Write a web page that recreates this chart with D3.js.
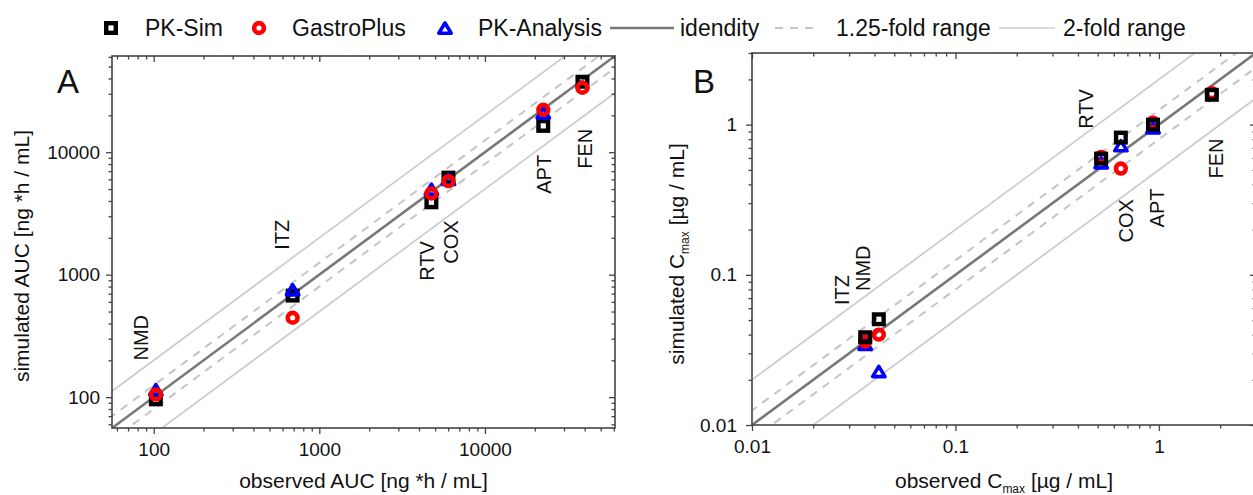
<!DOCTYPE html>
<html>
<head>
<meta charset="utf-8">
<script src="https://cdn.jsdelivr.net/npm/d3@7/dist/d3.min.js"></script>
<style>
body { margin: 0; background: #fff; }
text { font-family: "Liberation Sans", Arial, sans-serif; fill: #111; }
</style>
</head>
<body>
<svg id="fig"></svg>
<script>
var width = 1253,
	height = 495;

// drugs, same order in every array
var drugs = ["NMD", "ITZ", "RTV", "COX", "APT", "FEN"];

// panel A: AUC [ng*h/mL]
var aucObserved = [103, 690, 4750, 6020, 22500, 38800];
var aucPKSim = [96, 675, 3900, 6200, 16400, 37600];
var aucGastroPlus = [105, 445, 4600, 5800, 22200, 33600];
var aucPKAnalysis = [113, 740, 4900, 5900, 20600, null];
// where the drug names sit (observed, simulated)
var aucLabelX = [93, 660, 4950, 6900, 25200, 44600];
var aucLabelY = [199, 1600, 893, 1230, 4580, 7330];

// panel B: Cmax [ug/mL]
var cmaxObserved = [0.042, 0.036, 0.52, 0.65, 0.935, 1.82];
var cmaxPKSim = [0.0506, 0.0384, 0.594, 0.82, 1.0, 1.58];
var cmaxGastroPlus = [0.040, 0.036, 0.61, 0.51, 1.03, 1.62];
var cmaxPKAnalysis = [0.0224, 0.034, 0.55, 0.714, 0.94, null];
var cmaxLabelX = [0.038, 0.030, 0.475, 0.746, 1.06, 2.06];
var cmaxLabelY = [0.078, 0.063, 0.94, 0.164, 0.207, 0.438];

var aucDomain = [56, 61000];
var cmaxDomain = [0.01, 3];
var aucTicks = [100, 1000, 10000];
var cmaxTicks = [0.01, 0.1, 1];

var foldLines = [
	{f: 1, stroke: "#777777", w: 2.6, dash: null},
	{f: 1.25, stroke: "#c4c4c4", w: 2, dash: "8,7"},
	{f: 1 / 1.25, stroke: "#c4c4c4", w: 2, dash: "8,7"},
	{f: 2, stroke: "#cccccc", w: 1.7, dash: null},
	{f: 0.5, stroke: "#cccccc", w: 1.7, dash: null}
];

var svg = d3.select("#fig")
	.attr("width", width)
	.attr("height", height);

function minorTicks(dom) {
	var out = [];
	var e0 = Math.floor(Math.log10(dom[0])), e1 = Math.ceil(Math.log10(dom[1]));
	for (var e = e0; e <= e1; e++) {
		for (var k = 1; k <= 9; k++) {
			var v = k * Math.pow(10, e);
			if (v >= dom[0] * 0.999 && v <= dom[1] * 1.001) out.push(v);
		}
	}
	return out;
}

function squareMark(g, pts) {
	g.selectAll("rect.sq")
		.data(pts)
		.join("rect")
		.attr("class", "sq")
		.attr("x", d => d[0] - 4.8)
		.attr("y", d => d[1] - 4.8)
		.attr("width", 9.6)
		.attr("height", 9.6)
		.attr("fill", "none")
		.attr("stroke", "#000")
		.attr("stroke-width", 4.4);
}
function circleMark(g, pts) {
	g.selectAll("circle.ci")
		.data(pts)
		.join("circle")
		.attr("class", "ci")
		.attr("cx", d => d[0])
		.attr("cy", d => d[1])
		.attr("r", 4.9)
		.attr("fill", "none")
		.attr("stroke", "#ff0000")
		.attr("stroke-width", 4.6);
}
function triangleMark(g, pts) {
	g.selectAll("path.tri")
		.data(pts)
		.join("path")
		.attr("class", "tri")
		.attr("d", d => "M" + d[0] + "," + (d[1] - 6) + "L" + (d[0] + 6.2) + "," + (d[1] + 4.2) +
			"L" + (d[0] - 6.2) + "," + (d[1] + 4.2) + "Z")
		.attr("fill", "none")
		.attr("stroke", "#0000ff")
		.attr("stroke-width", 3.6)
		.attr("stroke-linejoin", "round");
}

function panel(p) {
	var x = d3.scaleLog().domain(p.domain).range(p.xr);
	var y = d3.scaleLog().domain(p.domain).range(p.yr);
	var g = svg.append("g");

	var clipId = "clip" + p.letter;
	g.append("clipPath").attr("id", clipId)
		.append("rect")
		.attr("x", p.xr[0]).attr("y", p.yr[1])
		.attr("width", p.xr[1] - p.xr[0]).attr("height", p.yr[0] - p.yr[1]);

	// identity and fold range lines
	g.append("g")
		.attr("clip-path", "url(#" + clipId + ")")
		.selectAll("line")
		.data(foldLines.slice().reverse())
		.join("line")
			.attr("x1", x(p.domain[0] / 4))
			.attr("x2", x(p.domain[1] * 4))
			.attr("y1", d => y(p.domain[0] / 4 * d.f))
			.attr("y2", d => y(p.domain[1] * 4 * d.f))
			.attr("stroke", d => d.stroke)
			.attr("stroke-width", d => d.w)
			.attr("stroke-dasharray", d => d.dash);

	var minors = minorTicks(p.domain).filter(v => p.ticks.indexOf(v) < 0);
	var fmt = d => String(d);

	// bottom
	g.append("g")
		.attr("transform", "translate(0," + p.yr[0] + ")")
		.call(d3.axisBottom(x).tickValues(p.ticks).tickFormat(fmt).tickSize(6).tickPadding(9))
		.call(a => a.select(".domain").remove());
	g.append("g")
		.attr("transform", "translate(0," + p.yr[0] + ")")
		.call(d3.axisBottom(x).tickValues(minors).tickFormat("").tickSize(3.5))
		.call(a => a.select(".domain").remove());
	// left
	g.append("g")
		.attr("transform", "translate(" + p.xr[0] + ",0)")
		.call(d3.axisLeft(y).tickValues(p.ticks).tickFormat(fmt).tickSize(6).tickPadding(p.ypad))
		.call(a => a.select(".domain").remove());
	g.append("g")
		.attr("transform", "translate(" + p.xr[0] + ",0)")
		.call(d3.axisLeft(y).tickValues(minors).tickFormat("").tickSize(3.5))
		.call(a => a.select(".domain").remove());
	// top and right, ticks pointing in
	g.append("g")
		.attr("transform", "translate(0," + p.yr[1] + ")")
		.call(d3.axisBottom(x).tickValues(p.ticks).tickFormat("").tickSize(6))
		.call(a => a.select(".domain").remove());
	g.append("g")
		.attr("transform", "translate(0," + p.yr[1] + ")")
		.call(d3.axisBottom(x).tickValues(minors).tickFormat("").tickSize(3.5))
		.call(a => a.select(".domain").remove());
	g.append("g")
		.attr("transform", "translate(" + p.xr[1] + ",0)")
		.call(d3.axisLeft(y).tickValues(p.ticks).tickFormat("").tickSize(6))
		.call(a => a.select(".domain").remove());
	g.append("g")
		.attr("transform", "translate(" + p.xr[1] + ",0)")
		.call(d3.axisLeft(y).tickValues(minors).tickFormat("").tickSize(3.5))
		.call(a => a.select(".domain").remove());

	g.selectAll(".tick line").attr("stroke", "#444").attr("stroke-width", 1.3);
	g.selectAll(".tick text").attr("font-size", 19).attr("fill", "#111")
		.attr("font-family", "Liberation Sans, Arial, sans-serif");

	// frame
	g.append("rect")
		.attr("x", p.xr[0]).attr("y", p.yr[1])
		.attr("width", p.xr[1] - p.xr[0]).attr("height", p.yr[0] - p.yr[1])
		.attr("fill", "none")
		.attr("stroke", "#444")
		.attr("stroke-width", 1.6);

	// drug names
	g.append("g")
		.selectAll("text")
		.data(drugs)
		.join("text")
			.attr("transform", (d, i) => "translate(" + x(p.labelX[i]) + "," + y(p.labelY[i]) + ") rotate(-90)")
			.attr("font-size", 20)
			.text(d => d);

	// markers
	function pts(sim) {
		return p.obs.map((o, i) => sim[i] == null ? null : [x(o), y(sim[i])]).filter(d => d);
	}
	p.order.forEach(function(k) {
		var mg = g.append("g").attr("clip-path", "url(#" + clipId + ")");
		if (k == "sq") squareMark(mg, pts(p.pksim));
		if (k == "ci") circleMark(mg, pts(p.gastro));
		if (k == "tri") triangleMark(mg, pts(p.pkana));
	});

	// panel letter
	g.append("text")
		.attr("x", p.letterPos[0])
		.attr("y", p.letterPos[1])
		.attr("font-size", 33)
		.text(p.letter);

	// axis titles
	var xt = g.append("text")
		.attr("x", (p.xr[0] + Math.min(p.xr[1], 1253 + 4)) / 2)
		.attr("y", 488)
		.attr("text-anchor", "middle")
		.attr("font-size", 21);
	p.xTitle(xt);
	var yt = g.append("text")
		.attr("transform", "translate(" + p.yTitleX + "," + p.yTitleY + ") rotate(-90)")
		.attr("text-anchor", "middle")
		.attr("font-size", 21);
	p.yTitle(yt);
}

function cmaxTitle(pre) {
	return function(t) {
		t.append("tspan").text(pre + " C");
		t.append("tspan").attr("font-size", 12).attr("dy", 5).text("max");
		t.append("tspan").attr("dy", -5).text(" [\u00b5g / mL]");
	};
}

panel({
	letter: "A",
	letterPos: [57, 93],
	domain: aucDomain,
	ticks: aucTicks,
	xr: [112, 615],
	yr: [428, 56],
	ypad: 6,
	obs: aucObserved,
	pksim: aucPKSim,
	gastro: aucGastroPlus,
	pkana: aucPKAnalysis,
	labelX: aucLabelX,
	labelY: aucLabelY,
	order: ["sq", "tri", "ci"],
	xTitle: t => t.text("observed AUC [ng *h / mL]"),
	yTitle: t => t.text("simulated AUC [ng *h / mL]"),
	yTitleX: 29,
	yTitleY: 256
});

panel({
	letter: "B",
	letterPos: [693, 93],
	domain: cmaxDomain,
	ticks: cmaxTicks,
	xr: [752, 1256],
	yr: [425, 53],
	ypad: 9,
	obs: cmaxObserved,
	pksim: cmaxPKSim,
	gastro: cmaxGastroPlus,
	pkana: cmaxPKAnalysis,
	labelX: cmaxLabelX,
	labelY: cmaxLabelY,
	order: ["tri", "ci", "sq"],
	xTitle: cmaxTitle("observed"),
	yTitle: cmaxTitle("simulated"),
	yTitleX: 684,
	yTitleY: 254
});

// legend
var legend = svg.append("g").attr("transform", "translate(0,28)");
var lx = {sq: 111, ci: 259, tri: 445};
squareMark(legend.append("g"), [[lx.sq, 0]]);
circleMark(legend.append("g"), [[lx.ci, 0]]);
triangleMark(legend.append("g"), [[lx.tri, 1]]);
var legendText = [
	{t: "PK-Sim", x: 145},
	{t: "GastroPlus", x: 292},
	{t: "PK-Analysis", x: 478},
	{t: "idendity", x: 680},
	{t: "1.25-fold range", x: 836},
	{t: "2-fold range", x: 1063}
];
legend.selectAll("text")
	.data(legendText)
	.join("text")
		.attr("x", d => d.x)
		.attr("y", 8)
		.attr("font-size", 23)
		.text(d => d.t);
var legendLines = [
	{x1: 610, x2: 674, s: foldLines[0]},
	{x1: 775, x2: 820, s: foldLines[1]},
	{x1: 999, x2: 1055, s: foldLines[3]}
];
legend.selectAll("line")
	.data(legendLines)
	.join("line")
		.attr("x1", d => d.x1)
		.attr("x2", d => d.x2)
		.attr("y1", 0)
		.attr("y2", 0)
		.attr("stroke", d => d.s.stroke)
		.attr("stroke-width", d => d.s.w)
		.attr("stroke-dasharray", d => d.s.dash);
</script>
</body>
</html>
